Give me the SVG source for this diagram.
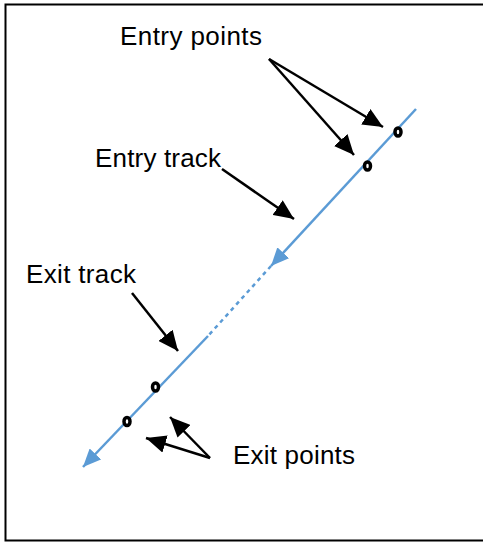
<svg xmlns="http://www.w3.org/2000/svg" width="483" height="544" viewBox="0 0 483 544">
<style>
.lbl{font-family:"Liberation Sans",Arial,sans-serif;font-size:26px;fill:#000}
.blk{stroke:#000;stroke-width:2.5;fill:none}
.trk{stroke:#5B9BD5;stroke-width:2.5;fill:none}
.pt{stroke:#000;stroke-width:3.5;fill:#fff}
</style>
<defs>
<marker id="ah" markerUnits="userSpaceOnUse" markerWidth="22" markerHeight="18" refX="20" refY="9" orient="auto">
<path d="M0,0 L20,9 L0,18 Z" fill="#000"/>
</marker>
<marker id="bh" markerUnits="userSpaceOnUse" markerWidth="20" markerHeight="16" refX="18" refY="8" orient="auto">
<path d="M0,0 L18,8 L0,16 Z" fill="#5B9BD5"/>
</marker>
</defs>
<rect x="5.5" y="4.5" width="482" height="536" fill="#fff" stroke="#000" stroke-width="2"/>
<g id="connectors">
<line id="entry-track" class="trk" x1="416" y1="109" x2="271" y2="266" marker-end="url(#bh)"/>
<line id="gap" class="trk" x1="271" y1="266" x2="208" y2="336" stroke-width="1.5" stroke-dasharray="4,4"/>
<line id="exit-track" class="trk" x1="208" y1="336" x2="83" y2="467" marker-end="url(#bh)"/>
<line class="blk" x1="269" y1="59" x2="383" y2="127" marker-end="url(#ah)"/>
<line class="blk" x1="269" y1="59" x2="354" y2="155" marker-end="url(#ah)"/>
<line class="blk" x1="222" y1="169" x2="294" y2="219" marker-end="url(#ah)"/>
<line class="blk" x1="132" y1="293" x2="178" y2="351" marker-end="url(#ah)"/>
<line class="blk" x1="210" y1="458" x2="170" y2="417" marker-end="url(#ah)"/>
<line class="blk" x1="210" y1="458" x2="146" y2="438" marker-end="url(#ah)"/>
</g>
<g id="entry-point-1"><ellipse class="pt" cx="398" cy="132" rx="3" ry="4"/></g>
<g id="entry-point-2"><ellipse class="pt" cx="367.5" cy="166" rx="3" ry="4"/></g>
<g id="exit-point-1"><ellipse class="pt" cx="155.5" cy="387" rx="3" ry="4"/></g>
<g id="exit-point-2"><ellipse class="pt" cx="127" cy="421.5" rx="3" ry="4"/></g>
<g id="label-entry-points"><text class="lbl" x="120" y="45" textLength="142">Entry points</text></g>
<g id="label-entry-track"><text class="lbl" x="95" y="167" textLength="126">Entry track</text></g>
<g id="label-exit-track"><text class="lbl" x="26" y="283" textLength="110">Exit track</text></g>
<g id="label-exit-points"><text class="lbl" x="233" y="464" textLength="122">Exit points</text></g>
</svg>
